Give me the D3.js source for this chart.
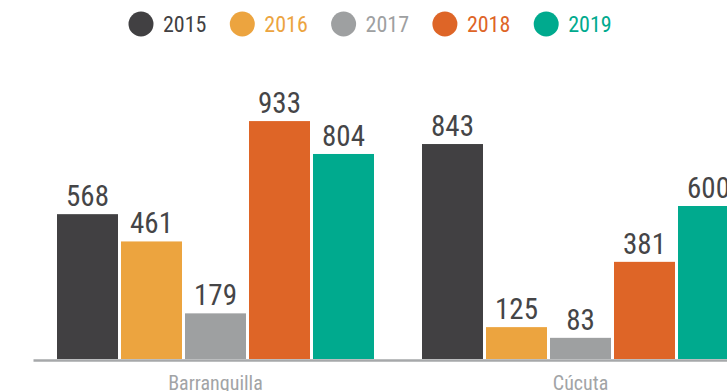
<!DOCTYPE html>
<html>
<head>
<meta charset="utf-8">
<script src="https://cdn.jsdelivr.net/npm/d3@7/dist/d3.min.js"></script>
<style>
  html, body { margin: 0; padding: 0; background: #fff; overflow: hidden; }
  svg { display: block; }
  text { font-family: "Liberation Sans Narrow", "Roboto Condensed", "Arial Narrow", sans-serif; }
</style>
</head>
<body>
<svg id="chart" width="727" height="391"></svg>
<script>
// Cities shown along the x axis
const cities = ["Barranquilla", "Cúcuta"];
// Years (one bar per year in each city group)
const years = ["2015", "2016", "2017", "2018", "2019"];
// Values per year, in the same order as the cities
const values2015 = [568, 843];
const values2016 = [461, 125];
const values2017 = [179, 83];
const values2018 = [933, 381];
const values2019 = [804, 600];
const seriesValues = [values2015, values2016, values2017, values2018, values2019];
const yearColors = ["#414042", "#eca43f", "#9ea0a1", "#de6527", "#00aa8e"];
const legendTextColors = ["#414042", "#eca43f", "#9ea0a1", "#de6527", "#00aa8e"];

const svg = d3.select("#chart");

const baseline = 359;
const x0 = d3.scaleBand().domain(cities).range([33, 763]).paddingInner(0).paddingOuter(0);
const x1 = d3.scaleBand().domain(years).range([0, x0.bandwidth()])
  .paddingInner(0.047).paddingOuter(0.375);
const y = d3.scaleLinear().domain([0, 1000]).range([baseline, 104]);
const color = d3.scaleOrdinal().domain(years).range(yearColors);

const rows = cities.map((c, i) => ({
  city: c,
  bars: years.map((yr, j) => ({ year: yr, value: seriesValues[j][i] }))
}));

// Bars
const groups = svg.append("g").selectAll("g").data(rows).join("g")
  .attr("transform", d => `translate(${x0(d.city)},0)`);

groups.selectAll("rect").data(d => d.bars).join("rect")
  .attr("x", d => x1(d.year))
  .attr("y", d => y(d.value))
  .attr("width", x1.bandwidth())
  .attr("height", d => y(0) - y(d.value))
  .attr("fill", d => color(d.year));

// Value labels above each bar
groups.selectAll("text.val").data(d => d.bars).join("text")
  .attr("class", "val")
  .attr("x", d => x1(d.year) + x1.bandwidth() / 2)
  .attr("y", d => y(d.value) - 8)
  .attr("text-anchor", "middle")
  .attr("font-size", 29)
  .attr("fill", "#454547")
  .text(d => d.value);

// Baseline axis
const xAxis = d3.axisBottom(x0).tickSize(0).tickPadding(16);
const axisG = svg.append("g").attr("transform", `translate(0,${baseline + 1})`).call(xAxis);
axisG.select(".domain").attr("stroke", "#a6a8aa").attr("stroke-width", 2.5);
axisG.selectAll(".tick text")
  .attr("font-size", 20)
  .attr("fill", "#a2a4a6")
  .style("font-family", "'Liberation Sans Narrow', 'Roboto Condensed', sans-serif");

// Legend
const legend = svg.append("g").selectAll("g").data(years).join("g")
  .attr("transform", (d, i) => `translate(${141 + i * 101.3},24)`);
legend.append("circle").attr("r", 12.5).attr("fill", d => color(d));
legend.append("text")
  .attr("x", 22).attr("y", 8)
  .attr("font-size", 22)
  .attr("fill", (d, i) => legendTextColors[i])
  .text(d => d);
</script>
</body>
</html>
